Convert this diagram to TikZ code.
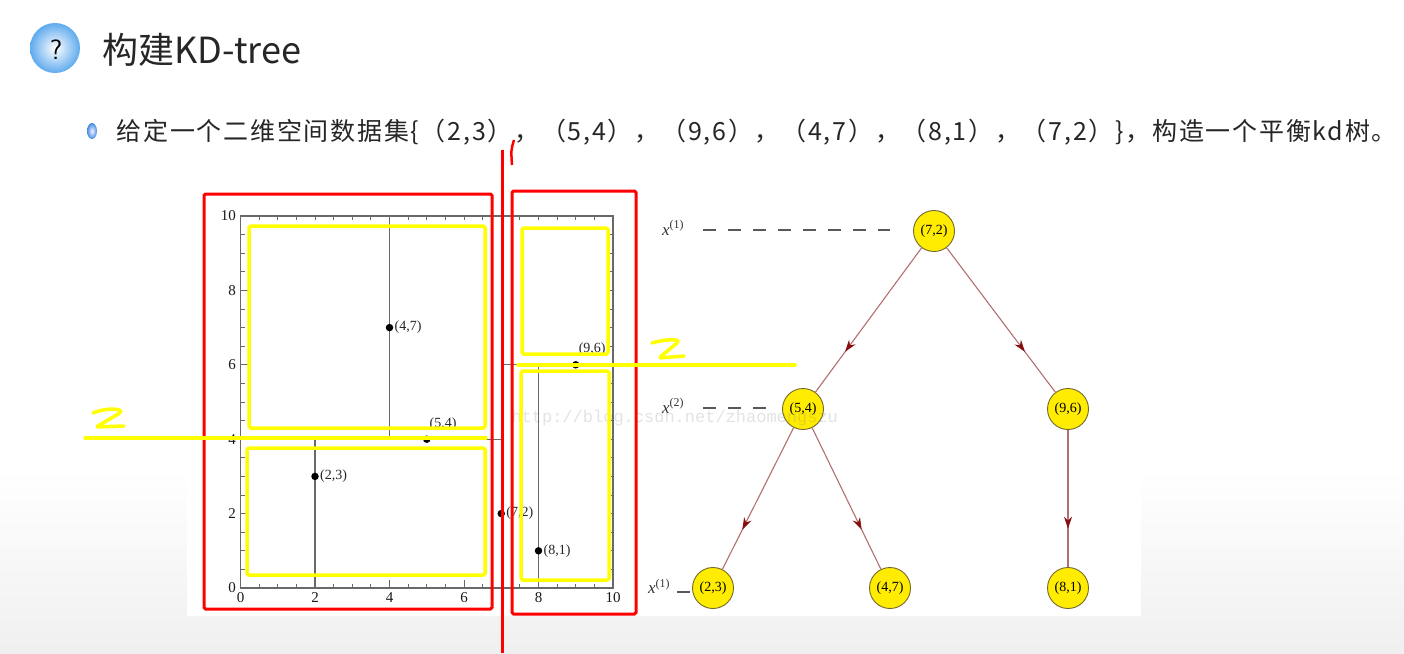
\documentclass[tikz,border=0pt]{standalone}
\usepackage{fontspec}
\setmainfont{Liberation Serif}
\newfontfamily\cjk{Noto Sans CJK SC}
\newfontfamily\cjkwide[LetterSpace=7]{Noto Sans CJK SC}
\newfontfamily\wmfont{Liberation Mono}
\usetikzlibrary{positioning,arrows.meta,decorations.markings}

\definecolor{nodeyellow}{RGB}{255,236,0}
\definecolor{nodeedge}{RGB}{115,105,45}
\definecolor{edgebrown}{RGB}{178,112,112}
\definecolor{tipred}{RGB}{135,15,15}
\definecolor{markyellow}{RGB}{255,255,0}
\definecolor{markred}{RGB}{255,0,0}
\definecolor{titlegray}{RGB}{38,38,38}
\definecolor{plotgray}{RGB}{105,105,105}

\begin{document}
\begin{tikzpicture}[x=1pt, y=-1pt,
    kdnode/.style={circle, draw=nodeedge, fill=nodeyellow, line width=0.9pt, minimum size=41pt, inner sep=0pt, font=\fontsize{14}{14}\selectfont},
    kdedge/.style={draw=edgebrown, line width=1.1pt, postaction={decorate},
        decoration={markings, mark=at position 0.72 with {\arrow[tipred]{Stealth[length=12pt,width=8pt]}}}},
    dashline/.style={draw=gray!70!black, line width=2.6pt, dash pattern=on 13pt off 12pt},
    axislbl/.style={font=\fontsize{17}{17}\selectfont, text=gray!40!black},
    splitline/.style={draw=plotgray, line width=1.2pt},
    ptdot/.style={circle, fill=black, inner sep=0pt, minimum size=7.5pt},
    ptlbl/.style={font=\fontsize{14}{14}\selectfont, text=gray!30!black, inner sep=1pt},
    ticklbl/.style={font=\fontsize{15}{15}\selectfont, text=gray!20!black},
    annored/.style={draw=markred, line width=3pt, rounded corners=1.5pt},
    annoyellow/.style={draw=markyellow, line width=3.5pt, rounded corners=1.5pt, line cap=round, line join=round}
]
\useasboundingbox (0,0) rectangle (1404,653);

% slide background
\fill[white] (0,0) rectangle (1404,470);
\shade[top color=white, bottom color=gray!12] (0,470) rectangle (1404,653);
\fill[white] (187,182) rectangle (1141,616);

% title line
\shade[inner color=white, outer color={rgb,255:red,95;green,170;blue,238}] (55,48) circle (25);
\node[font=\sffamily\fontsize{28}{28}\selectfont] (qmark) at (56,50) {?};
\node[anchor=west, font=\cjk\fontsize{36}{36}\selectfont, text=titlegray] (title) at (99,50) {构建KD-tree};

% task line
\shade[inner color=blue!5, outer color={rgb,255:red,70;green,140;blue,225}] (92,131) ellipse (5 and 8);
\node[anchor=west, font=\cjkwide\fontsize{25}{25}\selectfont, text=titlegray] (task) at (113,132)
    {给定一个二维空间数据集\{（2,3），（5,4），（9,6），（4,7），（8,1），（7,2）\}，构造一个平衡kd树。};

% partition plot
\begin{scope}[shift={(240.5,588)}, x=37.25pt, y=37.2pt]
    \draw[plotgray, line width=1.4pt] (0,0) rectangle (10,10);
    \foreach \t in {0,0.5,...,10} {
        \draw[plotgray, line width=0.8pt] (\t,0) -- (\t,0.12) (\t,10) -- (\t,9.88);
        \draw[plotgray, line width=0.8pt] (0,\t) -- (0.12,\t) (10,\t) -- (9.88,\t);
    }
    \foreach \t in {0,2,...,10} {
        \draw[plotgray, line width=0.8pt] (\t,0) -- (\t,0.22) (0,\t) -- (0.22,\t);
        \node[ticklbl, below] at (\t,-0.03) {\t};
        \node[ticklbl, left] at (-0.03,\t) {\t};
    }
    % splitting lines
    \draw[splitline] (7,0) -- (7,10);
    \draw[splitline] (0,4) -- (7,4);
    \draw[splitline] (2,0) -- (2,4);
    \draw[splitline] (4,4) -- (4,10);
    \draw[splitline] (7,6) -- (10,6);
    \draw[splitline] (8,0) -- (8,6);
    % points
    \node[ptdot] (p23) at (2,3) {};
    \node[ptdot] (p47) at (4,7) {};
    \node[ptdot] (p54) at (5,4) {};
    \node[ptdot] (p96) at (9,6) {};
    \node[ptdot] (p81) at (8,1) {};
    \node[ptdot] (p72) at (7,2) {};
    \node[ptlbl, right=0pt of p23] {(2,3)};
    \node[ptlbl, right=0pt of p47] {(4,7)};
    \node[ptlbl, right=0pt of p81] {(8,1)};
    \node[ptlbl, right=0pt of p72] {(7,2)};
    \node[ptlbl, above right=5pt and -1pt of p54] {(5,4)};
    \node[ptlbl, above right=5pt and -1pt of p96] {(9,6)};
\end{scope}

% kd tree
\node[kdnode] (n72) at (934,231) {(7,2)};
\node[kdnode] (n54) at (803,409) {(5,4)};
\node[kdnode] (n96) at (1068,409) {(9,6)};
\node[kdnode] (n23) at (713,588) {(2,3)};
\node[kdnode] (n47) at (890,588) {(4,7)};
\node[kdnode] (n81) at (1068,588) {(8,1)};

\draw[kdedge] (n72) -- (n54);
\draw[kdedge] (n72) -- (n96);
\draw[kdedge] (n54) -- (n23);
\draw[kdedge] (n54) -- (n47);
\draw[kdedge] (n96) -- (n81);

% depth labels
\node[axislbl] (lx1) at (673,228) {\textit{x}\textsuperscript{(1)}};
\node[axislbl] (lx2) at (673,406) {\textit{x}\textsuperscript{(2)}};
\node[axislbl] (lx3) at (659,586) {\textit{x}\textsuperscript{(1)}};
\coordinate (d1a) at (703,230);
\coordinate (d1b) at (890,230);
\coordinate (d2a) at (703,408);
\coordinate (d2b) at (767,408);
\coordinate (d3a) at (677,592);
\coordinate (d3b) at (690,592);
\draw[dashline] (d1a) -- (d1b);
\draw[dashline] (d2a) -- (d2b);
\draw[gray!70!black, line width=2.6pt] (d3a) -- (d3b);

% watermark
\node[font=\wmfont\fontsize{17}{17}\selectfont, text=gray, opacity=0.22, anchor=west] (wm) at (508,418) {http://blog.csdn.net/zhaomengszu};

% hand annotations
\draw[annored] (204,194) rectangle (492,609);
\draw[annored] (512,191) rectangle (636,614);
\draw[markred, line width=3pt] (502,150) -- (502,653);
\draw[markred, line width=2.5pt] (514,140) .. controls (511,150) .. (512,165);

\draw[annoyellow] (249,226) rectangle (485,428);
\draw[annoyellow] (247,448) rectangle (485,575);
\draw[annoyellow] (522,228) rectangle (608,354);
\draw[annoyellow] (521,371) rectangle (609,580);
\draw[annoyellow] (85,438) -- (486,438);
\draw[annoyellow] (518,365) -- (795,365);
\draw[annoyellow] (93,413) .. controls (108,407) and (122,409) .. (120,413) -- (96,427) -- (124,426);
\draw[annoyellow] (652,343) .. controls (665,339) and (680,339) .. (677,343) -- (659,358) -- (684,356);
\end{tikzpicture}
\end{document}
